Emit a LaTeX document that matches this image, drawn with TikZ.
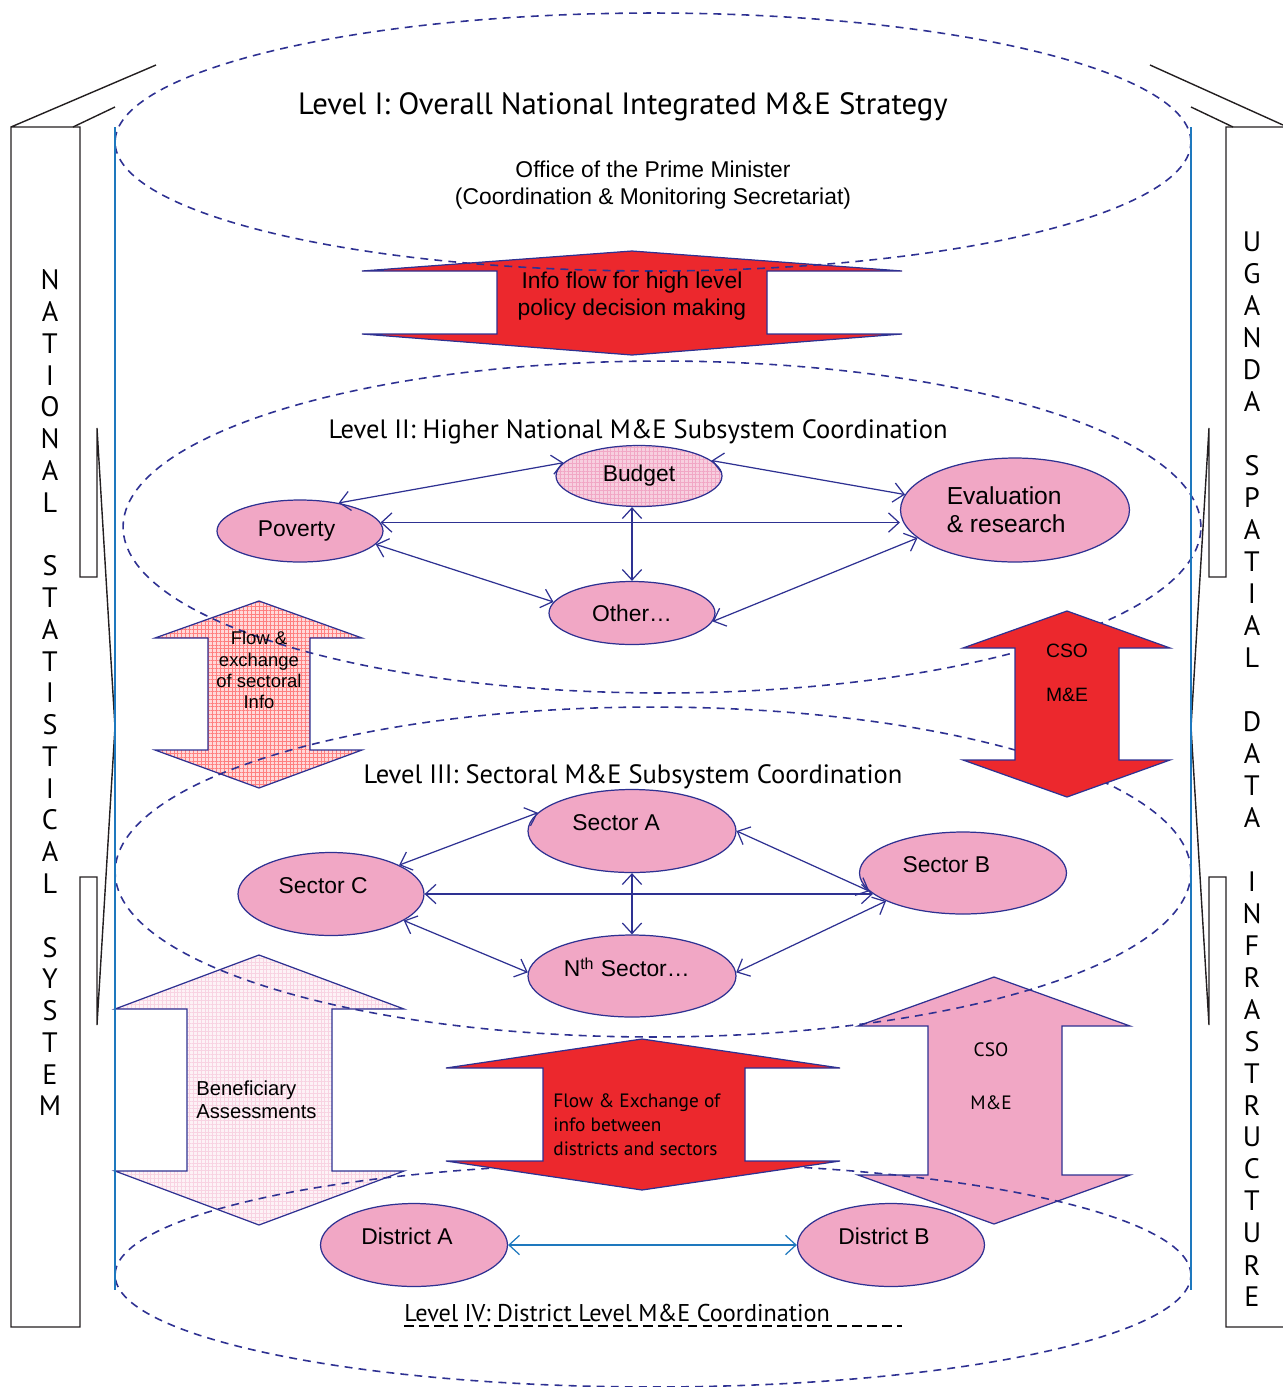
\documentclass[tikz,border=0pt]{standalone}
\usepackage{fontspec}
\setmainfont{Liberation Sans}
\newfontfamily\ptsans{PT Sans}
\usetikzlibrary{shapes.geometric,arrows.meta,patterns.meta}
\definecolor{mblue}{RGB}{46,49,146}
\definecolor{lblue}{RGB}{30,120,190}
\definecolor{pnk}{RGB}{241,167,197}
\definecolor{mred}{RGB}{236,40,45}
\definecolor{book}{RGB}{35,31,32}
\begin{document}
\begin{tikzpicture}[
		x=0.02cm, y=-0.02cm,
		level/.style={draw=mblue, line width=0.9pt, dash pattern=on 4.5pt off 3.5pt},
		bookline/.style={draw=book, line width=0.8pt},
		pillar/.style={draw=lblue, line width=0.8pt},
		bigarrow/.style={draw=mblue, line width=0.7pt, fill=#1},
		hatched/.style={draw=mblue, line width=0.7pt,
			preaction={fill=#1!15!white},
			pattern={Hatch[angle=0,distance=2.2pt,line width=0.35pt]},
			pattern color=#1!50},
		blob/.style={ellipse, draw=mblue, line width=0.7pt, fill=pnk,
			inner sep=0pt, align=center, font=\fontsize{13}{15}\selectfont},
		link/.style={draw=mblue, line width=0.7pt,
			{Straight Barb[length=6pt,width=11pt]}-{Straight Barb[length=6pt,width=11pt]}},
		raised/.style={yshift=5pt, xshift=#1, font=\fontsize{13}{15}\selectfont},
		heading/.style={font=\ptsans\fontsize{#1}{#1}\selectfont},
		spine/.style={font=\ptsans\fontsize{16}{16}\selectfont},
		info/.style 2 args={align=center, font=\fontsize{#1}{#2}\selectfont},
	]
	\useasboundingbox (0,0) rectangle (1283,1387);

	% arrows that sit under the dashed levels
	\path[bigarrow=mred] (632,251) -- (902,271) -- (767,271) -- (767,334) -- (902,334) -- (632,355)
		-- (362,334) -- (497,334) -- (497,271) -- (362,271) -- cycle;
	\path[hatched=red] (259,601) -- (362,638) -- (310,638) -- (310,750) -- (362,750) -- (259,788)
		-- (155,750) -- (208,750) -- (208,638) -- (155,638) -- cycle;
	\path[hatched=pnk] (259,955) -- (404,1009) -- (332,1009) -- (332,1171) -- (404,1171) -- (259,1225)
		-- (115,1171) -- (187,1171) -- (187,1009) -- (115,1009) -- cycle;
	\path[bigarrow=pnk] (994,977) -- (1130,1026) -- (1062,1026) -- (1062,1175) -- (1130,1175) -- (994,1224)
		-- (858,1175) -- (928,1175) -- (928,1026) -- (858,1026) -- cycle;

	% the four levels
	\draw[level] (653,142) ellipse [x radius=10.76cm, y radius=2.58cm];
	\draw[level] (662,527) ellipse [x radius=10.78cm, y radius=3.32cm];
	\draw[level] (653,872) ellipse [x radius=10.76cm, y radius=3.30cm];
	\draw[level] (653,1275) ellipse [x radius=10.76cm, y radius=2.24cm];

	% arrows over the levels
	\path[bigarrow=mred] (1067,611) -- (1170,648) -- (1119,648) -- (1119,760) -- (1170,760) -- (1067,797)
		-- (963,760) -- (1015,760) -- (1015,648) -- (963,648) -- cycle;
	\path[bigarrow=mred] (642,1039) -- (840,1068) -- (745,1068) -- (745,1161) -- (840,1161) -- (642,1190)
		-- (446,1161) -- (543,1161) -- (543,1068) -- (446,1068) -- cycle;

	% side books
	\draw[bookline] (156,65) -- (11,127) -- (11,1327) -- (80,1327) -- (80,877) -- (97,877) -- (97,1025)
		-- (115,727) -- (97,428) -- (97,577) -- (80,577) -- (80,127) -- (11,127);
	\draw[bookline] (73,127) -- (115,107);
	\draw[bookline] (1150,65) -- (1283,125);
	\draw[bookline] (1283,127) -- (1226,127) -- (1226,577) -- (1209,577) -- (1209,428) -- (1191,727)
		-- (1209,1025) -- (1209,877) -- (1226,877) -- (1226,1327) -- (1283,1327);
	\draw[bookline] (1233,127) -- (1191,107);
	\draw[pillar] (115,127) -- (115,1290);
	\draw[pillar] (1191,127) -- (1191,1290);

	\foreach \c [count=\i] in {N,A,T,I,O,N,A,L,,S,T,A,T,I,S,T,I,C,A,L,,S,Y,S,T,E,M}
		\node[spine] (nss\i) at (50,{280+(\i-1)*31.77}) {\c};
	\foreach \c [count=\i] in {U,G,A,N,D,A,,S,P,A,T,I,A,L,,D,A,T,A,,I,N,F,R,A,S,T,R,U,C,T,U,R,E}
		\node[spine] (usdi\i) at (1252,{242+(\i-1)*31.97}) {\c};

	% level I
	\node[heading=17.5] (lv1) at (623,107) {Level I: Overall National Integrated M\&E Strategy};
	\node[info={13}{15}] (opm) at (653,185) {Office of the Prime Minister\\(Coordination \& Monitoring Secretariat)};
	\node[info={13}{15}] (policy) at (632,296) {Info flow for high level\\policy decision making};

	% level II
	\node[heading=15.1] (lv2) at (638,432) {Level II: Higher National M\&E Subsystem Coordination};
	\node[blob, minimum width=3.32cm, minimum height=1.22cm, preaction={fill=pnk!55!white},
		pattern={Hatch[angle=0,distance=2.2pt,line width=0.35pt]}, pattern color=pnk] (bud) at (639,476) {Budget};
	\node[blob, minimum width=3.32cm, minimum height=1.24cm, label={[raised=-2pt, yshift=-5pt]center:Poverty}] (pov) at (300,531) {};
	\node[blob, minimum width=4.58cm, minimum height=2.08cm,
		label={[raised=-5pt, yshift=-5pt, align=left, font=\fontsize{14}{16}\selectfont]center:Evaluation\\\& research}] (eval) at (1015,510) {};
	\node[blob, minimum width=3.32cm, minimum height=1.26cm] (oth) at (632,613) {Other…};
	\draw[link] (pov.36) -- (bud.170);
	\draw[link] (bud.12) -- (eval.172);
	\draw[link] (pov.6) -- (eval.west |- pov.6);
	\draw[link] (oth.north |- bud.south) -- (oth.north);
	\draw[link] (pov.-10) -- (oth.172);
	\draw[link] (oth.-6) -- (eval.196);

	\node[info={10.5}{12}] (sectoral) at (259,670) {Flow \&\\exchange\\of sectoral\\Info};
	\node[info={11}{13}] (cso1) at (1067,673) {CSO\\[12pt]M\&E};

	% level III
	\node[heading=15.1] (lv3) at (633,777) {Level III: Sectoral M\&E Subsystem Coordination};
	\node[blob, minimum width=4.16cm, minimum height=1.66cm, label={[raised=-9pt]center:Sector A}] (secA) at (632,831) {};
	\node[blob, minimum width=3.72cm, minimum height=1.66cm, label={[raised=-4.5pt]center:Sector C}] (secC) at (331,894) {};
	\node[blob, minimum width=4.14cm, minimum height=1.64cm, label={[raised=-9.5pt]center:Sector B}] (secB) at (963,873) {};
	\node[blob, minimum width=4.16cm, minimum height=1.64cm, label={[raised=-3pt]center:N\textsuperscript{th} Sector…}] (nth) at (632,976) {};
	\draw[link] (secC.23) -- (secA.169);
	\draw[link] (secA.0) -- (secB.191);
	\draw[link] (secC.east) -- (secC.east -| secB.193);
	\draw[link] (secA.south) -- (nth.north);
	\draw[link] (secC.-20) -- (nth.178);
	\draw[link] (nth.2) -- (secB.200);

	\node[info={11.5}{13}, align=left, anchor=west, inner xsep=0pt] (benef) at (196,1100) {Beneficiary\\Assessments};
	\node[align=left, anchor=west, inner xsep=0pt, font=\ptsans\fontsize{11}{13.6}\selectfont] (flowdist) at (553,1125)
		{Flow \& Exchange of\\info between\\districts and sectors};
	\node[align=center, font=\ptsans\fontsize{11}{13}\selectfont] (cso2) at (991,1076) {CSO\\[17pt]M\&E};

	% level IV
	\node[blob, minimum width=3.74cm, minimum height=1.66cm, label={[raised=-4pt]center:District A}] (distA) at (414,1245) {};
	\node[blob, minimum width=3.74cm, minimum height=1.66cm, label={[raised=-4pt]center:District B}] (distB) at (891,1245) {};
	\draw[link, draw=lblue] (distA.east) -- (distB.west);
	\node[heading=13.8, anchor=west, inner xsep=0pt] (lv4) at (404,1313) {Level IV: District Level M\&E Coordination};
	\coordinate (ulend) at (902,1326);
	\draw[black, line width=0.9pt, dash pattern=on 5.5pt off 3pt] (lv4.west |- ulend) -- (ulend);
\end{tikzpicture}
\end{document}
